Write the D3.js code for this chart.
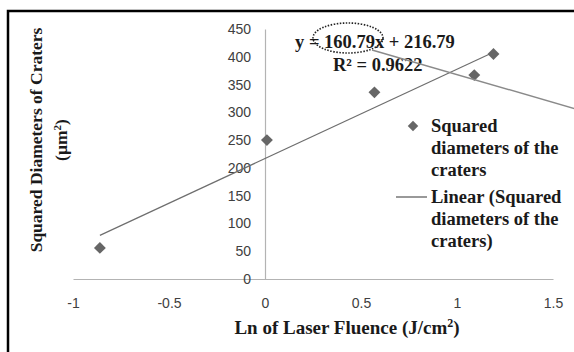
<!DOCTYPE html>
<html>
<head>
  <meta charset="utf-8">
  <script src="https://d3js.org/d3.v7.min.js"></script>
  <style>
    body { margin: 0; background: #fff; }
    text.bold { font-family: 'Liberation Serif', 'Times New Roman', serif; font-weight: bold; fill: #1a1a1a; }
    .tick text { font-family: 'Liberation Sans', Arial, sans-serif; font-size: 14px; fill: #404040; }
  </style>
</head>
<body>
<script>
  // data
  var lnFluence = [-0.86, 0.01, 0.57, 1.09, 1.19];
  var sqDiameter = [56, 250, 336, 367, 405];
  var slope = 160.79, intercept = 216.79;
  var xTicks = [-1, -0.5, 0, 0.5, 1, 1.5];
  var yTicks = [0, 50, 100, 150, 200, 250, 300, 350, 400, 450];

  var W = 574, H = 352;
  var svg = d3.select('body').append('svg')
    .attr('width', W).attr('height', H);

  // outer frame (cut off on the right and bottom)
  svg.append('rect')
    .attr('x', 8).attr('y', 11)
    .attr('width', 600).attr('height', 400)
    .attr('fill', 'none').attr('stroke', '#000').attr('stroke-width', 2.5);

  var x = d3.scaleLinear().domain([-1, 1.5]).range([73, 553]);
  var y = d3.scaleLinear().domain([0, 450]).range([279, 29]);

  // x axis through y = 0
  var xAxis = svg.append('g')
    .attr('transform', 'translate(0,' + y(0) + ')')
    .call(d3.axisBottom(x).tickValues(xTicks).tickSize(0).tickPadding(19)
      .tickFormat(function(d) { return String(d); }));
  xAxis.select('.domain').attr('stroke', '#b3b3b3').attr('stroke-width', 1.2);

  // y axis through x = 0
  var yAxis = svg.append('g')
    .attr('transform', 'translate(' + x(0) + ',0)')
    .call(d3.axisLeft(y).tickValues(yTicks).tickSize(0).tickPadding(14));
  yAxis.select('.domain').attr('stroke', '#b3b3b3').attr('stroke-width', 1.2);

  // linear trend line
  var xMin = d3.min(lnFluence), xMax = d3.max(lnFluence);
  svg.append('line')
    .attr('x1', x(xMin)).attr('y1', y(slope * xMin + intercept))
    .attr('x2', x(xMax)).attr('y2', y(slope * xMax + intercept))
    .attr('stroke', '#6e6e6e').attr('stroke-width', 1.2);

  // points
  var diamond = d3.symbol().type(d3.symbolDiamond2).size(90);
  svg.selectAll('path.pt')
    .data(lnFluence)
    .enter().append('path')
      .attr('class', 'pt')
      .attr('d', diamond)
      .attr('transform', function(d, i) {
        return 'translate(' + x(d) + ',' + y(sqDiameter[i]) + ')';
      })
      .attr('fill', '#666');

  // equation label
  svg.append('text').attr('class', 'bold')
    .attr('x', 295).attr('y', 48).style('font-size', '18.5px')
    .text('y = ' + slope + 'x + ' + intercept);
  svg.append('text').attr('class', 'bold')
    .attr('x', 333).attr('y', 71).style('font-size', '18.5px')
    .text('R\u00b2 = 0.9622');

  // dotted ellipse and pointer line
  svg.append('ellipse')
    .attr('cx', 348).attr('cy', 38).attr('rx', 35).attr('ry', 15)
    .attr('fill', 'none').attr('stroke', '#222').attr('stroke-width', 1.6)
    .attr('stroke-dasharray', '1.5,1.5');
  svg.append('line')
    .attr('x1', 372).attr('y1', 50).attr('x2', 576).attr('y2', 109)
    .attr('stroke', '#8a8a8a').attr('stroke-width', 1.4);

  // legend
  svg.append('path')
    .attr('d', d3.symbol().type(d3.symbolDiamond2).size(70))
    .attr('transform', 'translate(413,126)')
    .attr('fill', '#666');
  var leg1 = ['Squared', 'diameters of the', 'craters'];
  var leg2 = ['Linear (Squared', 'diameters of the', 'craters)'];
  leg1.forEach(function(t, i) {
    svg.append('text').attr('class', 'bold')
      .attr('x', 431).attr('y', 132 + i * 22).style('font-size', '18.5px').text(t);
  });
  svg.append('line')
    .attr('x1', 396).attr('y1', 197).attr('x2', 427).attr('y2', 197)
    .attr('stroke', '#6e6e6e').attr('stroke-width', 1.4);
  leg2.forEach(function(t, i) {
    svg.append('text').attr('class', 'bold')
      .attr('x', 431).attr('y', 203 + i * 22).style('font-size', '18.5px').text(t);
  });

  // axis titles
  var xt = svg.append('text').attr('class', 'bold')
    .attr('x', 347).attr('y', 334).attr('text-anchor', 'middle')
    .style('font-size', '19px');
  xt.append('tspan').text('Ln of Laser Fluence (J/cm');
  xt.append('tspan').attr('dy', -7).style('font-size', '12px').text('2');
  xt.append('tspan').attr('dy', 7).text(')');

  var yt = svg.append('g').attr('transform', 'translate(42,140) rotate(-90)');
  yt.append('text').attr('class', 'bold').attr('text-anchor', 'middle')
    .style('font-size', '17.5px').text('Squared Diameters of Craters');
  var yt2 = yt.append('text').attr('class', 'bold').attr('text-anchor', 'middle')
    .attr('y', 25).style('font-size', '17.5px');
  yt2.append('tspan').text('(\u00b5m');
  yt2.append('tspan').attr('dy', -6).style('font-size', '11px').text('2');
  yt2.append('tspan').attr('dy', 6).text(')');
</script>
</body>
</html>
